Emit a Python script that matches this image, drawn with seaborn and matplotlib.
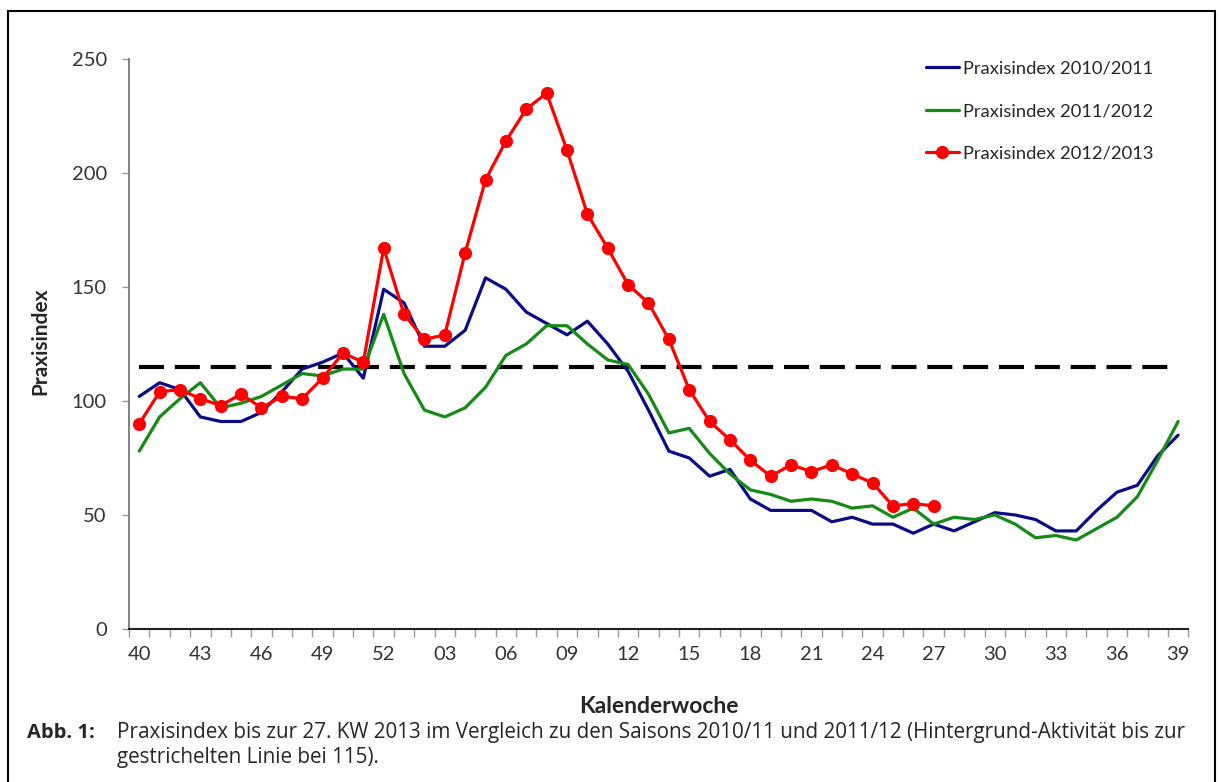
import numpy as np
import seaborn as sns
import matplotlib.pyplot as plt
from matplotlib.patches import Rectangle

# Calendar weeks (season runs from week 40 to week 39)
weeks = [f"{w:02d}" for w in list(range(40, 53)) + list(range(1, 40))]

# Praxisindex per season
index_2010_11 = [102, 108, 105, 93, 91, 91, 95, 104, 114, 117, 121, 110, 149,
                 143, 124, 124, 131, 154, 149, 139, 134, 129, 135, 125, 113,
                 96, 78, 75, 67, 70, 57, 52, 52, 52, 47, 49, 46, 46, 42, 46,
                 43, 47, 51, 50, 48, 43, 43, 52, 60, 63, 76, 85]
index_2011_12 = [78, 93, 101, 108, 97, 99, 102, 107, 112, 111, 114, 114, 138,
                 112, 96, 93, 97, 106, 120, 125, 133, 133, 125, 118, 116,
                 103, 86, 88, 77, 68, 61, 59, 56, 57, 56, 53, 54, 49, 53, 46,
                 49, 48, 50, 46, 40, 41, 39, 44, 49, 58, 74, 91]
index_2012_13 = [90, 104, 105, 101, 98, 103, 97, 102, 101, 110, 121, 117, 167,
                 138, 127, 129, 165, 197, 214, 228, 235, 210, 182, 167, 151,
                 143, 127, 105, 91, 83, 74, 67, 72, 69, 72, 68, 64, 54, 55, 54]
background_level = 115

sns.set_style("white")
plt.rcParams["font.family"] = ["Lato", "DejaVu Sans"]

fig = plt.figure(figsize=(12.21, 7.82), dpi=100)
ax = fig.add_axes([0.1057, 0.1957, 0.8675, 0.7289])

x_all = np.arange(len(weeks))

# Background activity threshold
sns.lineplot(x=x_all, y=[background_level] * len(weeks), ax=ax, color="black",
             linewidth=3, dashes=False, legend=False).lines[-1].set_dashes([6, 2.6])

sns.lineplot(x=x_all, y=index_2010_11, ax=ax, color="#0b0b85", linewidth=2.3,
             label="Praxisindex 2010/2011")
sns.lineplot(x=x_all, y=index_2011_12, ax=ax, color="#168a16", linewidth=2.3,
             label="Praxisindex 2011/2012")
sns.lineplot(x=x_all[:len(index_2012_13)], y=index_2012_13, ax=ax,
             color="#ff0000", linewidth=2.3, marker="o", markersize=9.5,
             markeredgewidth=0, label="Praxisindex 2012/2013")

# Axes limits and ticks
ax.set_xlim(-0.5, len(weeks) - 0.5)
ax.set_ylim(0, 250)
ax.set_yticks(np.arange(0, 251, 50))
ax.set_xticks(np.arange(0, len(weeks), 3))
ax.set_xticklabels(weeks[::3])
ax.set_xticks(np.arange(-0.5, len(weeks)), minor=True)
ax.tick_params(axis="x", which="major", length=0, pad=12, labelsize=14.5,
               labelcolor="#333333")
ax.tick_params(axis="x", which="minor", length=6, width=1, color="#999999",
               direction="out", bottom=True)
ax.tick_params(axis="y", length=5, width=1, color="#999999", direction="out",
               left=True, pad=11, labelsize=14.5, labelcolor="#333333")

for side in ["top", "right"]:
    ax.spines[side].set_visible(False)
ax.spines["left"].set_color("#777777")
ax.spines["left"].set_linewidth(1.3)
ax.spines["bottom"].set_color("#222222")
ax.spines["bottom"].set_linewidth(1.5)

ax.set_ylabel("Praxisindex", fontsize=15, fontweight="bold")
ax.yaxis.set_label_coords(-0.074, 0.504)
ax.set_xlabel("")

fig.text(0.540, 0.097, "Kalenderwoche", fontsize=16.5, fontweight="bold",
         ha="center", va="center")

# Legend
leg = ax.legend(loc="upper left", bbox_to_anchor=(0.745, 1.01), frameon=False,
                fontsize=13.2, handlelength=1.8, handletextpad=0.25,
                labelspacing=1.45, borderaxespad=0)

# Caption
cap_font = ["Open Sans", "DejaVu Sans"]
fig.text(0.022, 0.063, "Abb. 1:", fontsize=14.5, fontweight="bold",
         va="center", family=cap_font)
fig.text(0.096, 0.063,
         "Praxisindex bis zur 27. KW 2013 im Vergleich zu den Saisons 2010/11 "
         "und 2011/12 (Hintergrund-Aktivität bis zur", fontsize=14.9,
         va="center", family=cap_font)
fig.text(0.096, 0.031, "gestrichelten Linie bei 115).", fontsize=14.9,
         va="center", family=cap_font)

# Frame around the figure
fig.patches.append(Rectangle((0.0066, -0.02), 0.9885, 1.006,
                             transform=fig.transFigure, fill=False,
                             edgecolor="black", linewidth=1.5))

fig.savefig("out.png", dpi=100)
